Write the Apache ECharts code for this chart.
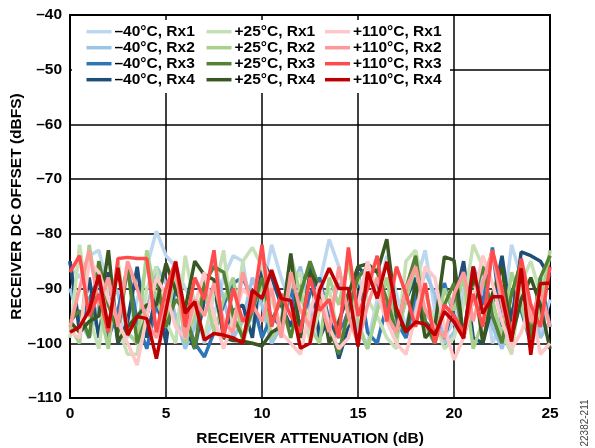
<!DOCTYPE html>
<html><head><meta charset="utf-8">
<script src="https://cdn.jsdelivr.net/npm/echarts@6/dist/echarts.min.js"></script>
<style>html,body{margin:0;padding:0;background:#fff}#c{width:595px;height:448px}</style>
</head><body><div id="c"></div>
<script>
// Attenuation steps 0..25 dB, 0.5 dB step
const attenuation = [];
for (let i = 0; i <= 50; i++) attenuation.push(i * 0.5);

const seriesNames = ['–40°C, Rx1','–40°C, Rx2','–40°C, Rx3','–40°C, Rx4',
  '+25°C, Rx1','+25°C, Rx2','+25°C, Rx3','+25°C, Rx4',
  '+110°C, Rx1','+110°C, Rx2','+110°C, Rx3','+110°C, Rx4'];
const seriesColors = ['#bdd7ee','#9dc3e6','#2e75b6','#1f4e79',
  '#c5e0b4','#a9d18e','#548235','#385723',
  '#ffc7c7','#ff9999','#ff4b4b','#c00000'];

const m40_rx1 = [-86,-88,-84,-83,-90,-95,-99,-92,-86,-79.5,
  -84,-86,-90,-93,-100,-95,-88,-84,-85,-96,
  -91,-82,-88,-93,-99,-97,-89,-81,-86,-95,
  -98,-100,-92,-84,-91,-97,-89,-83,-94,-99,
  -96,-90,-93,-87,-100,-96,-82,-88,-95,-98,-92];
const m40_rx2 = [-90,-96,-99,-93,-87,-91,-98,-100,-94,-86,
  -89,-95,-101,-97,-90,-85,-92,-99,-96,-88,
  -93,-100,-97,-91,-86,-94,-99,-95,-89,-92,
  -97,-101,-94,-88,-95,-99,-93,-87,-91,-100,
  -98,-92,-86,-90,-97,-101,-95,-89,-93,-99,-96];
const m40_rx3 = [-85,-97,-92,-88,-99,-94,-86,-96,-101,-93,
  -98,-90,-95,-100,-102.5,-98,-93,-89,-88,-92,
  -99,-95,-97,-90,-97,-91,-88,-96,-99,-94,
  -87,-98,-100,-93,-96,-99,-91,-94,-97,-89,
  -95,-99,-86,-93,-82.5,-97,-90,-94,-100,-88,-97];
const m40_rx4 = [-85,-98,-88,-99,-87,-100,-96,-86,-99,-91,
  -100,-87,-97,-101,-92,-90,-98,-94,-93,-99,
  -84.8,-88,-93,-97,-90,-86,-99,-95,-102.8,-97,
  -86,-88,-89,-95,-98,-92,-88,-96,-98,-99,
  -93,-85,-99,-100,-93,-84,-96,-83.3,-84,-85,-88];
const p25_rx1 = [-99,-82,-95,-101,-88,-97,-102,-102,-90,-86,
  -96,-100,-84,-93,-99,-91,-83,-98,-85,-82.5,
  -86,-92,-97,-89,-87,-100,-94,-90,-99,-96,
  -88,-92,-95,-99,-101,-85,-83,-91,-96,-101,
  -99,-93,-82,-86,-95,-98,-102,-89,-85,-91,-84];
const p25_rx2 = [-97,-100,-82,-93,-101,-85,-98,-100,-83,-92,
  -97,-87,-100,-95,-90,-98,-92,-88,-100,-94,
  -89,-99,-96,-84,-91,-97,-100,-88,-93,-85,
  -96,-101,-94,-88,-99,-92,-86,-97,-100,-90,
  -94,-88,-101,-96,-92,-99,-87,-93,-100,-94,-83];
const p25_rx3 = [-96,-94,-99,-85,-93,-98,-86,-100,-95,-88,
  -97,-92,-94,-101,-89,-86,-87,-95,-99,-94,
  -88,-96,-92,-99,-91,-85,-90,-97,-102,-94,
  -88,-86,-87,-92,-98,-90,-84,-96,-100,-93,
  -89,-99,-92,-86,-95,-100,-91,-85,-99,-88,-84];
const p25_rx4 = [-96,-98,-96,-95,-83,-99.7,-97,-95,-93,-93,
  -85.4,-90.3,-93.7,-85,-87.5,-88.4,-99,-99.5,-99.6,-100,
  -100.5,-98,-97,-83.6,-99,-87,-90,-100,-96,-91,
  -86,-85.5,-87,-81,-95,-98,-89,-99,-97,-84.2,
  -84.8,-99,-87,-100,-91,-86,-99,-92,-88,-93,-101];
const p110_rx1 = [-98,-99,-85,-87,-92,-96,-100,-104,-95,-88,
  -91,-97,-99,-93,-87,-95,-101,-96,-90,-92,
  -84,-90,-98,-100,-102,-94,-89,-97,-101,-99,
  -93,-85,-91,-96,-100,-102,-95,-86,-88,-97,
  -103,-99,-92,-84,-89,-96,-101,-98,-93,-102,-100];
const p110_rx2 = [-97,-90,-83,-93,-88,-97,-85,-90,-96,-99,
  -93,-86,-99,-92,-95,-89,-96,-98,-87,-93,
  -96,-90,-99,-87,-94,-97,-92,-98,-86,-95,
  -100,-93,-88,-95,-98,-90,-86,-94,-97,-99,
  -91,-87,-96,-89,-83,-93,-99,-86,-96,-90,-97];
const p110_rx3 = [-87,-84,-95,-91,-98,-84.5,-84.3,-84.5,-84.5,-98,
  -90,-85,-97,-88,-92,-83,-99,-90,-96,-94,
  -82,-97,-91,-95,-98,-88,-94,-92,-99,-82.5,
  -95,-90,-84,-96,-86,-91,-97,-89,-100,-93,
  -95,-98,-91,-97,-83,-90,-99,-84.5,-93,-97,-86];
const p110_rx4 = [-98,-97,-94,-87.5,-97.2,-86.2,-98.5,-95.1,-95.5,-102.8,
  -94,-85.1,-94.5,-92.4,-99.4,-98.2,-98.5,-99,-100,-90.3,
  -91.8,-86.6,-91.8,-92.2,-100.9,-100,-90.3,-86.3,-90,-90,
  -100.6,-86.9,-91.8,-85.1,-93.6,-97.9,-96.1,-96.5,-98.5,-94.2,
  -96.1,-99.1,-86,-94.6,-91.5,-91.5,-99.7,-86.3,-102.1,-89.1,-89];

const allValues = [m40_rx1,m40_rx2,m40_rx3,m40_rx4,p25_rx1,p25_rx2,p25_rx3,p25_rx4,
  p110_rx1,p110_rx2,p110_rx3,p110_rx4];

const xTicks = {min:0, max:25, interval:5};
const yTicks = {min:-110, max:-40, interval:10};

const FONT = "'Liberation Sans', Arial, sans-serif";
const FS = 15.5;
const dash = v => (v < 0 ? '–' + Math.abs(v) : String(v));

const series = allValues.map((vals, k) => ({
  name: seriesNames[k],
  type: 'line',
  showSymbol: false,
  symbol: 'none',
  data: vals.map((v, i) => [attenuation[i], v]),
  lineStyle: {width: 3.5, color: seriesColors[k]},
  itemStyle: {color: seriesColors[k]},
  z: 2,
  animation: false
}));

function mkLegend(names, left) {
  return {
    orient: 'vertical', left: left, top: 23.7, padding: 0,
    itemWidth: 25, itemHeight: 3.5, itemGap: 0, icon: 'rect',
    data: names,
    textStyle: {fontFamily: FONT, fontWeight: 'bold', fontSize: FS, color: '#000', lineHeight: 15.9, padding: [0,0,0,-2]},
    selectedMode: false
  };
}

const chart = echarts.init(document.getElementById('c'), null, {renderer: 'canvas'});
chart.setOption({
  animation: false,
  backgroundColor: '#fff',
  grid: {left: 70, right: 45, top: 15, bottom: 50, containLabel: false, outerBoundsMode: 'none',
    show: true, borderColor: '#000', borderWidth: 2, backgroundColor: 'transparent'},
  legend: [
    mkLegend(seriesNames.slice(0,4), 86.5),
    mkLegend(seriesNames.slice(4,8), 206.5),
    mkLegend(seriesNames.slice(8,12), 325)
  ],
  xAxis: {
    type: 'value', min: xTicks.min, max: xTicks.max, interval: xTicks.interval,
    axisLine: {lineStyle: {color: '#000', width: 2}},
    axisTick: {show: false},
    splitLine: {lineStyle: {color: '#000', width: 1.5}},
    axisLabel: {color: '#000', fontFamily: FONT, fontWeight: 'bold', fontSize: FS, margin: 8},
    name: 'RECEIVER ATTENUATION (dB)', nameLocation: 'middle', nameGap: 33, nameMoveOverlap: false,
    nameTextStyle: {color: '#000', fontFamily: FONT, fontWeight: 'bold', fontSize: FS}
  },
  yAxis: {
    type: 'value', min: yTicks.min, max: yTicks.max, interval: yTicks.interval,
    axisLine: {lineStyle: {color: '#000', width: 2}},
    axisTick: {show: false},
    splitLine: {lineStyle: {color: '#000', width: 1.5}},
    axisLabel: {color: '#000', fontFamily: FONT, fontWeight: 'bold', fontSize: FS, margin: 8, formatter: dash},
    name: 'RECEIVER DC OFFSET (dBFS)', nameLocation: 'middle', nameGap: 45, nameRotate: 90, nameMoveOverlap: false,
    nameTextStyle: {color: '#000', fontFamily: FONT, fontWeight: 'bold', fontSize: FS}
  },
  graphic: [
    {type: 'rect', shape: {x: 72, y: 20, width: 378, height: 73}, style: {fill: '#fff'}, z: 3, silent: true},
    {type: 'text', x: 585, y: 423, rotation: Math.PI/2,
     style: {text: '22382-211', fill: '#444', font: "10px 'Liberation Sans', Arial", textAlign: 'center', textVerticalAlign: 'middle'}, z: 5}
  ],
  series: series
});
</script></body></html>
